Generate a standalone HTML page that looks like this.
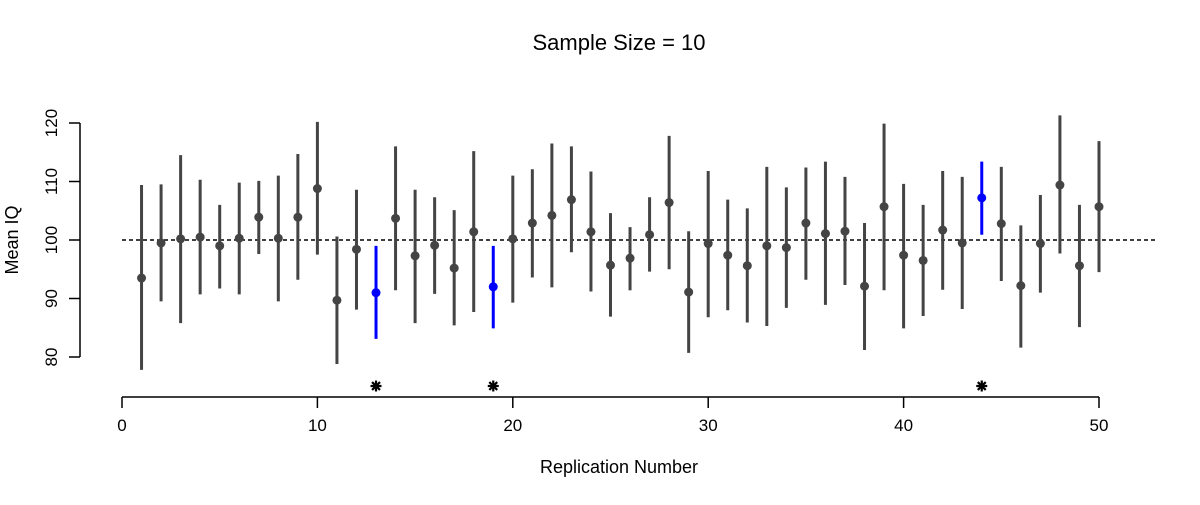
<!DOCTYPE html>
<html><head><meta charset="utf-8"><style>
body{margin:0;background:#fff}
svg text{font-family:"Liberation Sans",sans-serif;fill:#000}
</style></head><body>
<svg id="c" width="1200" height="500">
<text x="619" y="50" font-size="22" text-anchor="middle">Sample Size = 10</text>
<text x="619" y="473" font-size="18" text-anchor="middle">Replication Number</text>
<text transform="translate(18,240) rotate(-90)" font-size="18" text-anchor="middle">Mean IQ</text>
<g id="axes"></g><g id="marks"></g>
</svg>
<script>
const replications=[1,2,3,4,5,6,7,8,9,10,11,12,13,14,15,16,17,18,19,20,21,22,23,24,25,26,27,28,29,30,31,32,33,34,35,36,37,38,39,40,41,42,43,44,45,46,47,48,49,50];
const means=[93.5,99.5,100.2,100.5,99,100.3,103.9,100.3,103.9,108.8,89.7,98.4,91,103.7,97.3,99.1,95.2,101.4,92,100.2,102.9,104.2,106.9,101.4,95.7,96.9,100.9,106.4,91.1,99.4,97.4,95.6,99,98.7,102.9,101.1,101.5,92.1,105.7,97.4,96.5,101.7,99.5,107.2,102.8,92.2,99.4,109.4,95.6,105.7];
const lows=[77.8,89.5,85.8,90.7,91.7,90.7,97.6,89.5,93.2,97.5,78.8,88.1,83.1,91.4,85.8,90.8,85.4,87.7,84.9,89.3,93.6,91.9,97.9,91.2,86.9,91.4,94.6,95,80.7,86.8,88,85.9,85.3,88.4,93.2,88.9,92.3,81.2,91.4,84.9,87,91.5,88.2,100.9,93,81.6,91,97.7,85.1,94.5];
const highs=[109.4,109.5,114.5,110.3,106,109.8,110.1,111,114.7,120.2,100.6,108.6,99,116,108.6,107.3,105.1,115.2,99,111,112.1,116.5,116,111.7,104.6,102.2,107.3,117.8,101.5,111.8,106.9,105.4,112.5,109,112.4,113.4,110.8,102.9,119.9,109.6,106,111.8,110.8,113.4,112.5,102.5,107.7,121.3,106,116.9];
const trueMean=100;
const xTicks=[0,10,20,30,40,50];
const yTicks=[80,90,100,110,120];
const NS="http://www.w3.org/2000/svg";
const X=v=>122+v*(1099-122)/50;
const Y=v=>240-(v-100)*5.85;
function mk(t,a,p){const e=document.createElementNS(NS,t);for(const k in a)e.setAttribute(k,a[k]);p.appendChild(e);return e;}
const ax=document.getElementById('axes'),mg=document.getElementById('marks');
let l=mk('line',{x1:X(0),x2:X(50),y1:397,y2:397,stroke:'#000','stroke-width':1.5},ax);


xTicks.forEach(t=>{
 const tk=mk('line',{x1:X(t),x2:X(t),y1:397,y2:408,stroke:'#000','stroke-width':1.5},ax);
 
 
 const tx=mk('text',{x:X(t),y:431,'font-size':17,'text-anchor':'middle'},ax);tx.textContent=t;
 
 
});
l=mk('line',{x1:80,x2:80,y1:Y(120),y2:Y(80),stroke:'#000','stroke-width':1.5},ax);


yTicks.forEach(t=>{
 const tk=mk('line',{x1:69,x2:80,y1:Y(t),y2:Y(t),stroke:'#000','stroke-width':1.5},ax);
 
 
 const tx=mk('text',{transform:`translate(57,${Y(t)}) rotate(-90)`,'font-size':17,'text-anchor':'middle'},ax);tx.textContent=t;
 
 
});
l=mk('line',{x1:X(0),x2:1158,y1:Y(trueMean),y2:Y(trueMean),stroke:'#000','stroke-width':1.5,'stroke-dasharray':'4,3'},ax);


replications.forEach((r,i)=>{
 const miss=lows[i]>trueMean||highs[i]<trueMean;
 const c=miss?'#0000ff':'#444444';
 const ln=mk('line',{x1:X(r),x2:X(r),y1:Y(lows[i]),y2:Y(highs[i]),stroke:c,'stroke-width':3},mg);
 
 
 const pt=mk('circle',{cx:X(r),cy:Y(means[i]),r:4.5,fill:c},mg);
 
 
 if(miss){
  const g=mk('g',{stroke:'#000','stroke-width':2.2},mg);
  
  
  const cx=X(r),cy=386,rr=5.5;
  [[rr,0],[0,rr],[rr*0.72,rr*0.72],[rr*0.72,-rr*0.72]].forEach(d=>{
   mk('line',{x1:cx-d[0],y1:cy-d[1],x2:cx+d[0],y2:cy+d[1]},g);
  });
 }
});
</script>
</body></html>
